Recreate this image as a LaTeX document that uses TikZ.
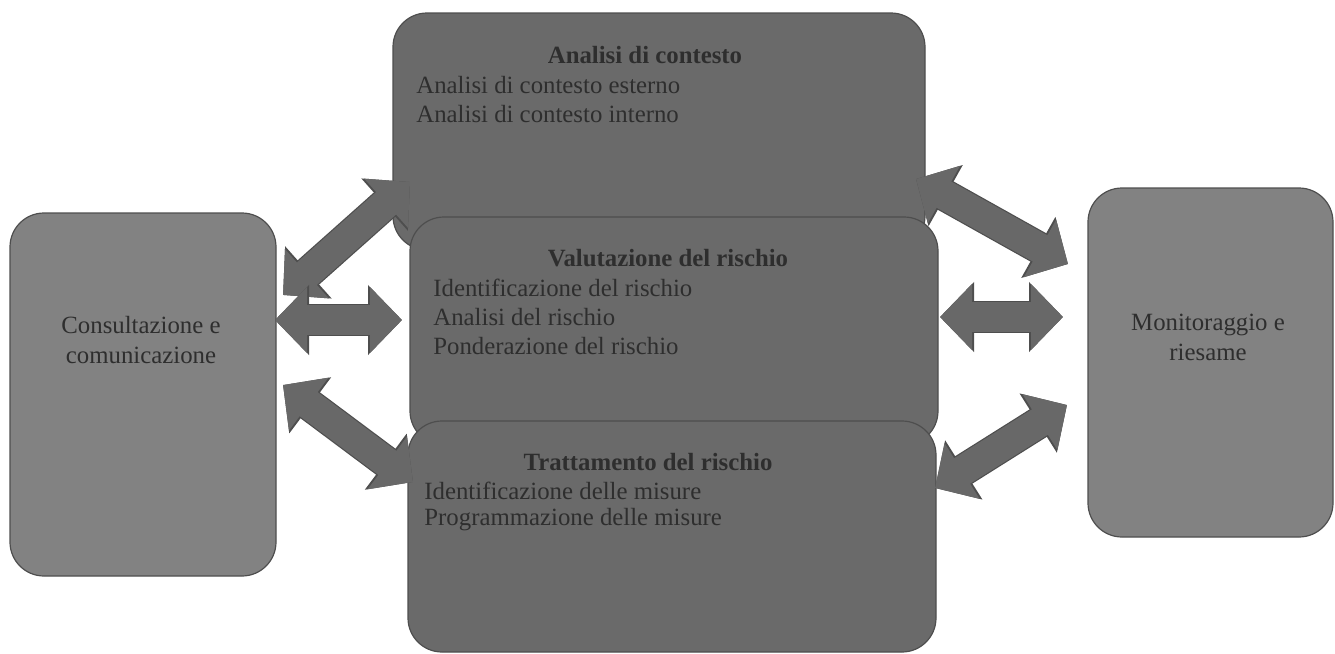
\documentclass[tikz,border=0pt]{standalone}
\usepackage{fontspec}
\setmainfont{Liberation Serif}
\usetikzlibrary{arrows.meta}
\definecolor{boxgray}{RGB}{106,106,106}
\definecolor{sidegray}{RGB}{130,130,130}
\definecolor{arrowgray}{RGB}{104,104,104}
\definecolor{edgegray}{RGB}{78,78,78}
\definecolor{textgray}{RGB}{46,46,46}

\begin{document}
\begin{tikzpicture}[x=0.5pt, y=-0.5pt, font=\fontsize{12.4}{15}\selectfont, text=textgray,
      mainbox/.style={rectangle, rounded corners=17pt, draw=edgegray, line width=0.6pt, fill=boxgray},
      sidebox/.style={rectangle, rounded corners=17pt, draw=edgegray, line width=0.6pt, fill=sidegray},
      boxtitle/.style={inner sep=0pt, font=\fontsize{12.4}{15}\selectfont\bfseries},
      boxitem/.style={inner sep=0pt, anchor=west},
      blockarrow/.style={line width=15pt, draw=arrowgray,
         {Triangle[width=32pt,length=16pt]}-{Triangle[width=32pt,length=16pt]},
         preaction={draw=edgegray, line width=16.2pt,
            {Triangle[width=34pt,length=17pt]}-{Triangle[width=34pt,length=17pt]}}}]
      \useasboundingbox (0,0) rectangle (1335,654);

      % side boxes
      \node[sidebox, minimum width=133pt, minimum height=181.5pt, name=cons] at (143,394.5) {};
      \node[sidebox, minimum width=122.5pt, minimum height=174.5pt, name=moni] at (1210.5,362.5) {};
      \node[align=center, name=consText] at (141,340) {Consultazione e\\comunicazione};
      \node[align=center, name=moniText] at (1208,337) {Monitoraggio e\\riesame};

      % central boxes
      \node[mainbox, minimum width=266pt, minimum height=118.5pt, name=ctx] at (659,131.5) {};
      \node[boxtitle, name=ctxTitle] at (645,55) {Analisi di contesto};
      \node[boxitem, name=ctxA] at (416,85) {Analisi di contesto esterno};
      \node[boxitem, name=ctxB] at (416,114) {Analisi di contesto interno};

      \node[mainbox, minimum width=264pt, minimum height=114pt, name=val] at (674,331) {};
      \node[boxtitle, name=valTitle] at (668,258) {Valutazione del rischio};
      \node[boxitem, name=valA] at (433,288) {Identificazione del rischio};
      \node[boxitem, name=valB] at (433,317) {Analisi del rischio};
      \node[boxitem, name=valC] at (433,346) {Ponderazione del rischio};

      \node[mainbox, minimum width=264pt, minimum height=115.5pt, name=trat] at (672,536.5) {};
      \node[boxtitle, name=tratTitle] at (648,462) {Trattamento del rischio};
      \node[boxitem, name=tratA] at (424,491) {Identificazione delle misure};
      \node[boxitem, name=tratB] at (424,520) {Programmazione delle misure};

      % arrow ends
      \coordinate (la1) at (283,295);  \coordinate (lb1) at (410,182);
      \coordinate (la2) at (275,320);  \coordinate (lb2) at (402,320);
      \coordinate (la3) at (283,385);  \coordinate (lb3) at (413,482);
      \coordinate (ra1) at (916,179);  \coordinate (rb1) at (1068,264);
      \coordinate (ra2) at (940,317);  \coordinate (rb2) at (1063,317);
      \coordinate (ra3) at (935,488);  \coordinate (rb3) at (1067,405);

      \draw[blockarrow] (la1) -- (lb1);
      \draw[blockarrow] (la2) -- (lb2);
      \draw[blockarrow] (la3) -- (lb3);
      \draw[blockarrow] (ra1) -- (rb1);
      \draw[blockarrow] (ra2) -- (rb2);
      \draw[blockarrow] (ra3) -- (rb3);
   \end{tikzpicture}
\end{document}
